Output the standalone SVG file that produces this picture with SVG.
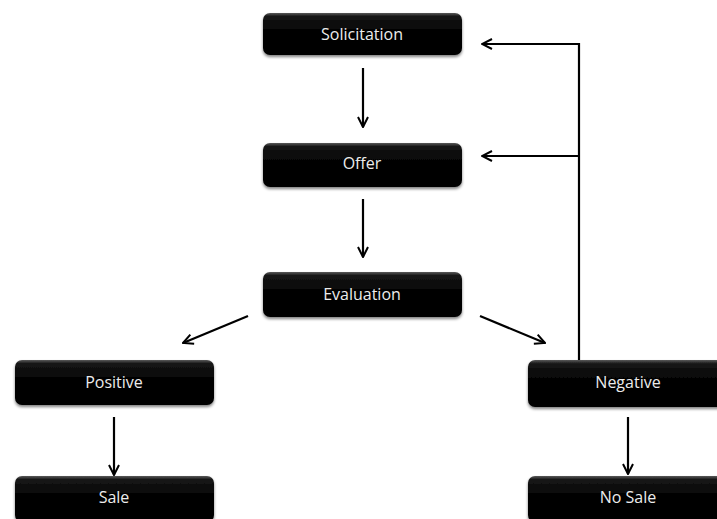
<svg xmlns="http://www.w3.org/2000/svg" width="717" height="519" viewBox="0 0 717 519">
<defs>
<linearGradient id="g" x1="0" y1="0" x2="0" y2="1">
<stop offset="0" stop-color="#5a5a5a"/>
<stop offset="0.08" stop-color="#161616"/>
<stop offset="0.5" stop-color="#000"/>
<stop offset="1" stop-color="#050505"/>
</linearGradient>
<filter id="sh" x="-10%" y="-20%" width="120%" height="150%">
<feGaussianBlur in="SourceAlpha" stdDeviation="1.5"/>
<feOffset dx="0" dy="2" result="b"/>
<feComponentTransfer><feFuncA type="linear" slope="0.5"/></feComponentTransfer>
<feMerge><feMergeNode/><feMergeNode in="SourceGraphic"/></feMerge>
</filter>
<marker id="ah" viewBox="0 0 12 12" refX="11" refY="6" markerWidth="12" markerHeight="12" markerUnits="userSpaceOnUse" orient="auto">
<path d="M1,1 L11,6 L1,11" fill="none" stroke="#000" stroke-width="2"/>
</marker>
</defs>
<style>
.box{fill:url(#g);filter:url(#sh)}
.lbl{font-family:"Open Sans","Noto Sans","Liberation Sans",sans-serif;font-size:16px;fill:#ececec;text-anchor:middle;dominant-baseline:central}
.c{fill:none;stroke:#000;stroke-width:2.2}
</style>
<rect width="717" height="519" fill="#fff"/>
<g id="connectors">
<line class="c" x1="363" y1="68" x2="363" y2="127" marker-end="url(#ah)"/>
<line class="c" x1="363" y1="199" x2="363" y2="257" marker-end="url(#ah)"/>
<line class="c" x1="248" y1="316" x2="183" y2="343" marker-end="url(#ah)"/>
<line class="c" x1="480" y1="316" x2="545" y2="343" marker-end="url(#ah)"/>
<line class="c" x1="114" y1="417" x2="114" y2="475" marker-end="url(#ah)"/>
<line class="c" x1="628" y1="417" x2="628" y2="474" marker-end="url(#ah)"/>
<polyline class="c" points="579,362 579,44 482,44" marker-end="url(#ah)"/>
<line class="c" x1="579" y1="156" x2="482" y2="156" marker-end="url(#ah)"/>
</g>
<g id="solicitation"><rect class="box" x="263" y="13" width="199" height="42" rx="7"/><text class="lbl" x="362" y="34">Solicitation</text></g>
<g id="offer"><rect class="box" x="263" y="143" width="199" height="44" rx="7"/><text class="lbl" x="362" y="163">Offer</text></g>
<g id="evaluation"><rect class="box" x="263" y="272" width="199" height="45" rx="7"/><text class="lbl" x="362" y="294">Evaluation</text></g>
<g id="positive"><rect class="box" x="15" y="360" width="199" height="45" rx="7"/><text class="lbl" x="114" y="382">Positive</text></g>
<g id="negative"><rect class="box" x="528" y="360" width="200" height="47" rx="7"/><text class="lbl" x="628" y="382">Negative</text></g>
<g id="sale"><rect class="box" x="15" y="476" width="199" height="46" rx="7"/><text class="lbl" x="114" y="497">Sale</text></g>
<g id="nosale"><rect class="box" x="528" y="476" width="200" height="46" rx="7"/><text class="lbl" x="628" y="497">No Sale</text></g>
</svg>
